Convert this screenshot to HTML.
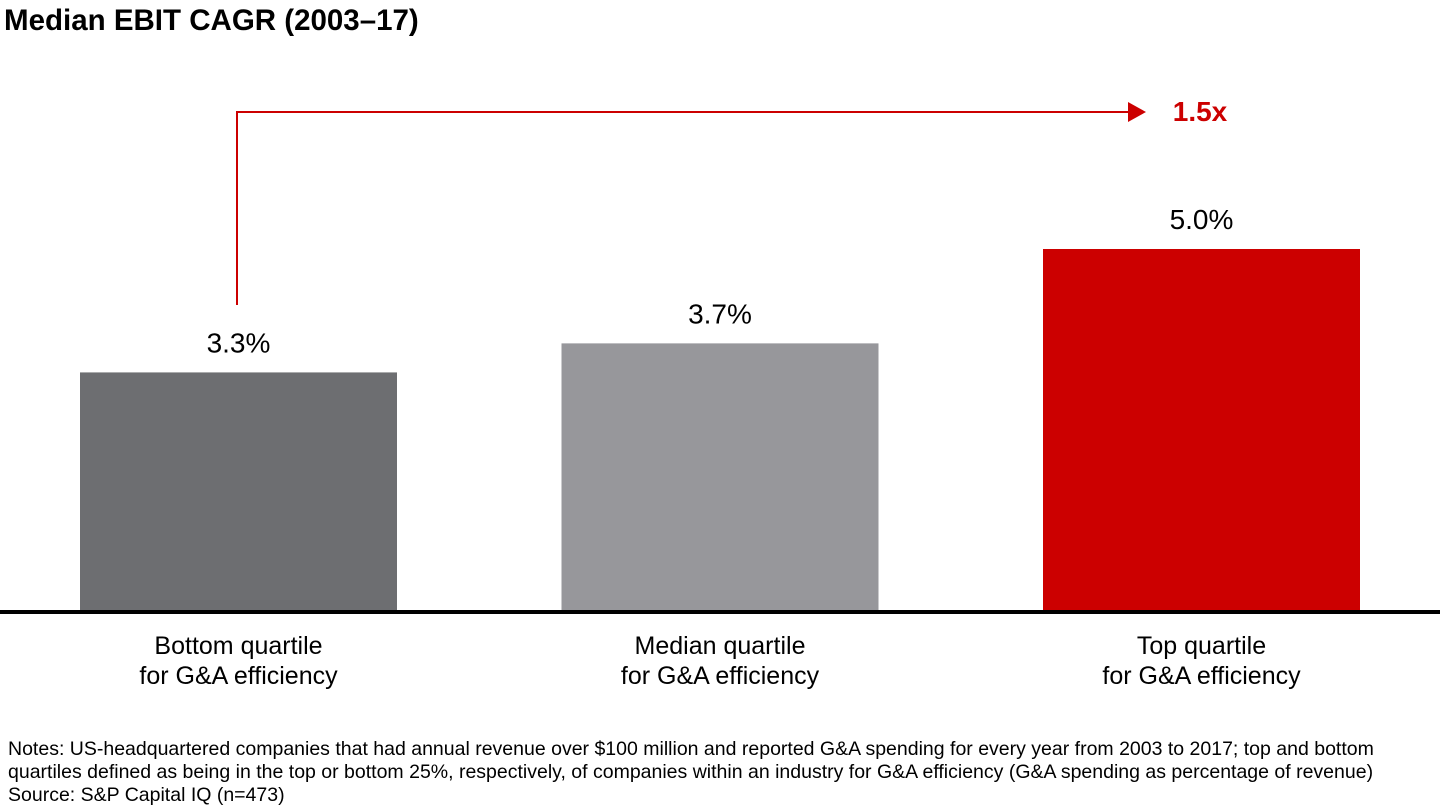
<!DOCTYPE html>
<html><head><meta charset="utf-8"><style>
body{margin:0;background:#fff;width:1440px;height:810px;overflow:hidden;font-family:"Liberation Sans",Arial,sans-serif}
svg{position:absolute;left:0;top:0}
</style></head><body>
<svg width="1440" height="810">
<text x="4" y="30" font-size="29.5" font-weight="bold" fill="#000">Median EBIT CAGR (2003–17)</text>
<g id="bars"></g>
<rect x="0" y="610" width="1440" height="4" fill="#000"/>
<polyline points="237,305 237,112 1130,112" fill="none" stroke="#cc0000" stroke-width="2"/>
<polygon points="1128,102 1146,112 1128,122" fill="#cc0000"/>
<text x="1200" y="121" font-size="28" font-weight="bold" fill="#cc0000" text-anchor="middle">1.5x</text>
<g font-size="19.5" fill="#000">
<text x="8" y="755">Notes: US-headquartered companies that had annual revenue over $100 million and reported G&amp;A spending for every year from 2003 to 2017; top and bottom</text>
<text x="8" y="778">quartiles defined as being in the top or bottom 25%, respectively, of companies within an industry for G&amp;A efficiency (G&amp;A spending as percentage of revenue)</text>
<text x="8" y="801">Source: S&amp;P Capital IQ (n=473)</text>
</g>
</svg>
<script>
const categories=["Bottom quartile","Median quartile","Top quartile"];
const values=[3.3,3.7,5.0];
const valueLabels=["3.3%","3.7%","5.0%"];
const colors=["#6d6e71","#97979b","#cc0000"];
const NS="http://www.w3.org/2000/svg";
const baseY=612, scale=72.6, x0=80, step=481.5, bw=317;
const yPos=v=>baseY-v*scale;
const xPos=i=>x0+i*step;
const g=document.getElementById('bars');
values.forEach((v,i)=>{
 const r=document.createElementNS(NS,'rect');
 r.setAttribute('x',xPos(i));r.setAttribute('y',yPos(v));
 r.setAttribute('width',bw);r.setAttribute('height',baseY-yPos(v));
 r.setAttribute('fill',colors[i]);
 
 
 g.appendChild(r);
 const cx=xPos(i)+bw/2;
 const t=document.createElementNS(NS,'text');
 t.setAttribute('x',cx);t.setAttribute('y',yPos(v)-20);
 t.setAttribute('text-anchor','middle');t.setAttribute('font-size','28');
 t.textContent=valueLabels[i];
 
 
 g.appendChild(t);
 [categories[i],"for G&A efficiency"].forEach((s,j)=>{
  const c=document.createElementNS(NS,'text');
  c.setAttribute('x',cx);c.setAttribute('y',654+j*30);
  c.setAttribute('text-anchor','middle');c.setAttribute('font-size','25');
  c.textContent=s;
  
  
  g.appendChild(c);
 });
});
</script>
</body></html>
